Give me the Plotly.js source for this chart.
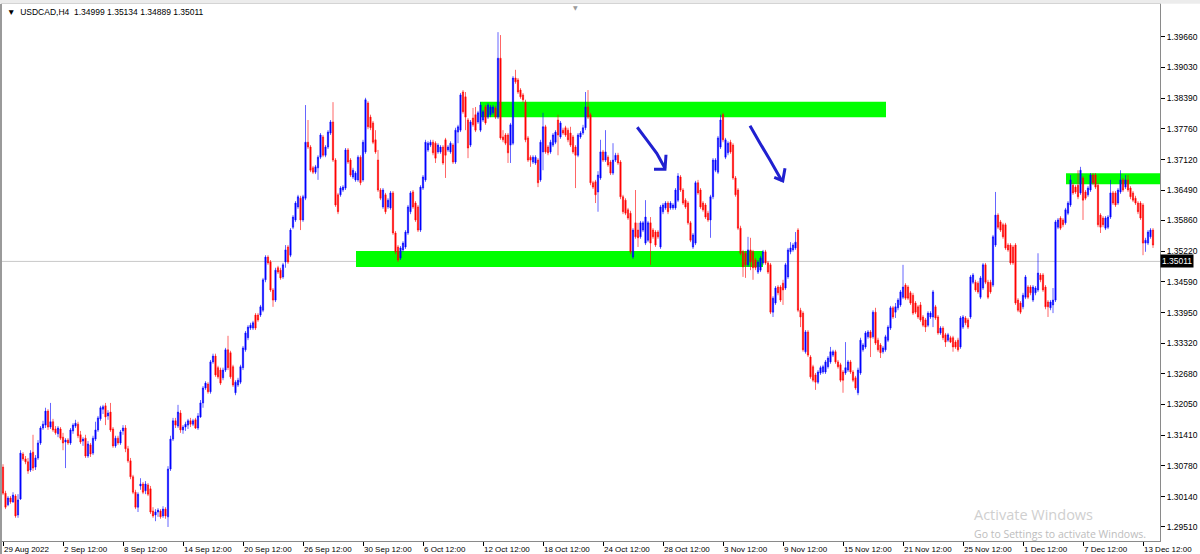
<!DOCTYPE html>
<html>
<head>
<meta charset="utf-8">
<script src="https://cdn.plot.ly/plotly-3.0.1.min.js"></script>
<style>
html,body{margin:0;padding:0;background:#ffffff;overflow:hidden;}
#chart{width:1200px;height:554px;}
</style>
</head>
<body>
<div id="chart"></div>
<script>
// ---------------- DATA ----------------
const symbolTitle = 'USDCAD,H4';
const lastQuote = [1.34999, 1.35134, 1.34889, 1.35011]; // O H L C of current bar
const currentPrice = 1.35011;

const openP = [
1.3075,1.3021,1.2997,1.3011,1.3003,1.3015,1.2976,1.3009,1.3102,1.3092,
1.3086,1.3069,1.3106,1.3075,1.3094,1.3125,1.3156,1.3162,1.3191,1.3158,
1.3169,1.3154,1.3144,1.3154,1.3137,1.3127,1.3131,1.3125,1.3150,1.3160,
1.3164,1.3142,1.3129,1.3135,1.3098,1.3121,1.3104,1.3133,1.3152,1.3175,
1.3195,1.3202,1.3181,1.3189,1.3154,1.3119,1.3135,1.3125,1.3150,1.3156,
1.3113,1.3088,1.3055,1.3023,1.2992,1.3036,1.3040,1.3026,1.3038,1.3030,
1.2984,1.2976,1.2982,1.2984,1.2974,1.2988,1.2972,1.3071,1.3133,1.3171,
1.3160,1.3187,1.3152,1.3158,1.3162,1.3171,1.3164,1.3173,1.3156,1.3179,
1.3208,1.3239,1.3247,1.3231,1.3293,1.3305,1.3281,1.3276,1.3260,1.3276,
1.3318,1.3312,1.3283,1.3229,1.3245,1.3251,1.3281,1.3318,1.3343,1.3363,
1.3363,1.3390,1.3390,1.3390,1.3400,1.3463,1.3510,1.3500,1.3442,1.3421,
1.3488,1.3483,1.3469,1.3500,1.3531,1.3514,1.3572,1.3587,1.3614,1.3632,
1.3587,1.3632,1.3748,1.3738,1.3695,1.3686,1.3695,1.3717,1.3759,1.3721,
1.3738,1.3767,1.3790,1.3711,1.3639,1.3639,1.3649,1.3653,1.3732,1.3711,
1.3676,1.3670,1.3670,1.3717,1.3670,1.3728,1.3829,1.3800,1.3788,1.3753,
1.3711,1.3649,1.3614,1.3639,1.3614,1.3612,1.3643,1.3560,1.3531,1.3508,
1.3525,1.3531,1.3560,1.3604,1.3645,1.3622,1.3614,1.3566,1.3653,1.3670,
1.3732,1.3742,1.3748,1.3746,1.3728,1.3728,1.3738,1.3753,1.3732,1.3728,
1.3742,1.3707,1.3769,1.3773,1.3852,1.3842,1.3794,1.3742,1.3798,1.3805,
1.3790,1.3773,1.3794,1.3821,1.3800,1.3805,1.3809,1.3819,1.3800,1.3922,
1.3759,1.3763,1.3763,1.3742,1.3746,1.3881,1.3877,1.3856,1.3846,1.3831,
1.3757,1.3717,1.3707,1.3705,1.3711,1.3670,1.3728,1.3780,1.3738,1.3728,
1.3742,1.3748,1.3794,1.3759,1.3773,1.3778,1.3773,1.3767,1.3759,1.3738,
1.3721,1.3759,1.3767,1.3778,1.3821,1.3805,1.3664,1.3666,1.3645,1.3674,
1.3728,1.3711,1.3717,1.3707,1.3684,1.3711,1.3721,1.3707,1.3635,1.3628,
1.3608,1.3601,1.3510,1.3581,1.3566,1.3552,1.3566,1.3539,1.3545,1.3581,
1.3566,1.3562,1.3562,1.3531,1.3604,1.3612,1.3622,1.3612,1.3612,1.3612,
1.3628,1.3676,1.3649,1.3628,1.3622,1.3581,1.3531,1.3539,1.3664,1.3649,
1.3622,1.3618,1.3601,1.3587,1.3635,1.3690,1.3686,1.3738,1.3805,1.3717,
1.3726,1.3748,1.3742,1.3674,1.3649,1.3570,1.3521,1.3518,1.3494,1.3525,
1.3521,1.3504,1.3479,1.3483,1.3498,1.3521,1.3498,1.3494,1.3396,1.3415,
1.3448,1.3448,1.3456,1.3446,1.3469,1.3521,1.3525,1.3529,1.3566,1.3400,
1.3394,1.3314,1.3355,1.3303,1.3283,1.3266,1.3251,1.3270,1.3272,1.3272,
1.3283,1.3293,1.3307,1.3314,1.3293,1.3287,1.3272,1.3270,1.3276,1.3293,
1.3272,1.3260,1.3229,1.3270,1.3318,1.3324,1.3345,1.3355,1.3345,1.3396,
1.3338,1.3328,1.3314,1.3318,1.3338,1.3363,1.3405,1.3396,1.3405,1.3411,
1.3427,1.3452,1.3448,1.3436,1.3431,1.3415,1.3407,1.3411,1.3386,1.3380,
1.3369,1.3386,1.3386,1.3407,1.3386,1.3353,1.3363,1.3349,1.3338,1.3343,
1.3343,1.3334,1.3338,1.3324,1.3365,1.3384,1.3380,1.3386,1.3458,1.3458,
1.3456,1.3427,1.3446,1.3494,1.3458,1.3458,1.3452,1.3535,1.3597,1.3583,
1.3577,1.3577,1.3535,1.3535,1.3531,1.3535,1.3421,1.3415,1.3407,1.3427,
1.3448,1.3448,1.3421,1.3436,1.3442,1.3473,1.3473,1.3448,1.3417,1.3405,
1.3411,1.3421,1.3572,1.3591,1.3587,1.3581,1.3601,1.3618,1.3659,1.3655,
1.3659,1.3643,1.3674,1.3645,1.3639,1.3649,1.3680,1.3680,1.3659,1.3597,
1.3591,1.3570,1.3572,1.3593,1.3643,1.3643,1.3622,1.3645,1.3670,1.3655,
1.3670,1.3653,1.3643,1.3632,1.3622,1.3622,1.3618,1.3539,1.3539,1.3552,
1.3566];

const highP = [
1.3081,1.3026,1.3015,1.3015,1.3023,1.3019,1.3019,1.3110,1.3106,1.3098,
1.3094,1.3110,1.3142,1.3100,1.3131,1.3160,1.3171,1.3198,1.3195,1.3208,
1.3175,1.3160,1.3160,1.3158,1.3146,1.3135,1.3135,1.3156,1.3166,1.3173,
1.3169,1.3150,1.3137,1.3142,1.3129,1.3125,1.3140,1.3169,1.3181,1.3202,
1.3204,1.3208,1.3193,1.3208,1.3158,1.3140,1.3140,1.3152,1.3162,1.3162,
1.3119,1.3094,1.3059,1.3028,1.3023,1.3052,1.3044,1.3046,1.3042,1.3036,
1.2992,1.2988,1.2990,1.2988,1.2994,1.2992,1.3077,1.3140,1.3177,1.3177,
1.3204,1.3193,1.3162,1.3169,1.3175,1.3177,1.3175,1.3177,1.3187,1.3214,
1.3243,1.3253,1.3251,1.3297,1.3310,1.3310,1.3285,1.3281,1.3281,1.3322,
1.3347,1.3316,1.3287,1.3255,1.3260,1.3287,1.3326,1.3357,1.3369,1.3374,
1.3378,1.3394,1.3394,1.3411,1.3467,1.3514,1.3514,1.3504,1.3446,1.3488,
1.3492,1.3488,1.3498,1.3535,1.3535,1.3570,1.3597,1.3626,1.3639,1.3637,
1.3639,1.3825,1.3794,1.3742,1.3699,1.3701,1.3721,1.3767,1.3763,1.3742,
1.3773,1.3794,1.3831,1.3715,1.3643,1.3657,1.3659,1.3736,1.3736,1.3715,
1.3695,1.3688,1.3721,1.3721,1.3753,1.3840,1.3833,1.3805,1.3792,1.3773,
1.3732,1.3653,1.3653,1.3643,1.3632,1.3647,1.3647,1.3564,1.3535,1.3533,
1.3543,1.3566,1.3618,1.3647,1.3649,1.3626,1.3618,1.3659,1.3680,1.3753,
1.3750,1.3753,1.3753,1.3750,1.3746,1.3742,1.3742,1.3757,1.3742,1.3750,
1.3746,1.3778,1.3784,1.3850,1.3856,1.3852,1.3798,1.3794,1.3819,1.3821,
1.3813,1.3831,1.3815,1.3825,1.3829,1.3825,1.3825,1.3823,1.3976,1.3970,
1.3773,1.3767,1.3767,1.3788,1.3885,1.3898,1.3881,1.3860,1.3850,1.3836,
1.3761,1.3721,1.3721,1.3721,1.3715,1.3753,1.3809,1.3784,1.3742,1.3753,
1.3767,1.3773,1.3805,1.3792,1.3778,1.3782,1.3778,1.3780,1.3763,1.3742,
1.3767,1.3771,1.3784,1.3852,1.3856,1.3809,1.3668,1.3670,1.3688,1.3753,
1.3732,1.3773,1.3721,1.3711,1.3746,1.3726,1.3726,1.3711,1.3639,1.3632,
1.3612,1.3606,1.3570,1.3649,1.3581,1.3585,1.3585,1.3628,1.3585,1.3593,
1.3570,1.3566,1.3566,1.3618,1.3622,1.3626,1.3626,1.3626,1.3622,1.3653,
1.3684,1.3680,1.3653,1.3632,1.3626,1.3585,1.3560,1.3668,1.3670,1.3653,
1.3626,1.3622,1.3606,1.3639,1.3715,1.3715,1.3761,1.3805,1.3809,1.3757,
1.3750,1.3753,1.3746,1.3678,1.3653,1.3575,1.3525,1.3523,1.3552,1.3550,
1.3525,1.3508,1.3504,1.3512,1.3525,1.3525,1.3502,1.3498,1.3429,1.3450,
1.3452,1.3452,1.3463,1.3498,1.3529,1.3541,1.3539,1.3562,1.3570,1.3405,
1.3398,1.3359,1.3359,1.3307,1.3287,1.3270,1.3276,1.3285,1.3287,1.3297,
1.3305,1.3324,1.3318,1.3318,1.3297,1.3291,1.3276,1.3334,1.3297,1.3297,
1.3276,1.3264,1.3281,1.3343,1.3332,1.3357,1.3359,1.3359,1.3400,1.3405,
1.3343,1.3332,1.3326,1.3349,1.3369,1.3409,1.3409,1.3415,1.3425,1.3442,
1.3494,1.3456,1.3452,1.3440,1.3436,1.3419,1.3411,1.3417,1.3390,1.3384,
1.3398,1.3398,1.3442,1.3411,1.3390,1.3367,1.3367,1.3353,1.3353,1.3347,
1.3347,1.3338,1.3343,1.3388,1.3390,1.3388,1.3384,1.3473,1.3477,1.3463,
1.3460,1.3471,1.3498,1.3498,1.3463,1.3463,1.3556,1.3645,1.3601,1.3587,
1.3581,1.3581,1.3539,1.3539,1.3535,1.3539,1.3425,1.3419,1.3436,1.3473,
1.3452,1.3452,1.3452,1.3450,1.3518,1.3477,1.3477,1.3452,1.3421,1.3421,
1.3446,1.3587,1.3591,1.3595,1.3591,1.3612,1.3626,1.3680,1.3664,1.3659,
1.3690,1.3697,1.3678,1.3649,1.3657,1.3684,1.3684,1.3684,1.3664,1.3601,
1.3595,1.3595,1.3597,1.3670,1.3647,1.3647,1.3653,1.3690,1.3674,1.3680,
1.3680,1.3657,1.3647,1.3637,1.3626,1.3626,1.3622,1.3550,1.3566,1.3570,
1.3570];

const lowP = [
1.3017,1.2988,1.2994,1.2999,1.3001,1.2970,1.2970,1.3007,1.3088,1.3081,
1.3061,1.3065,1.3067,1.3069,1.3090,1.3121,1.3152,1.3156,1.3152,1.3154,
1.3148,1.3142,1.3137,1.3131,1.3110,1.3073,1.3121,1.3121,1.3144,1.3156,
1.3135,1.3123,1.3119,1.3094,1.3094,1.3096,1.3100,1.3129,1.3148,1.3171,
1.3185,1.3162,1.3173,1.3148,1.3115,1.3115,1.3121,1.3121,1.3142,1.3106,
1.3084,1.3050,1.3019,1.2988,1.2982,1.3028,1.3019,1.3019,1.3015,1.2978,
1.2970,1.2963,1.2972,1.2968,1.2970,1.2968,1.2951,1.3067,1.3129,1.3156,
1.3156,1.3146,1.3144,1.3150,1.3154,1.3158,1.3160,1.3154,1.3152,1.3177,
1.3198,1.3235,1.3227,1.3227,1.3289,1.3262,1.3258,1.3245,1.3255,1.3272,
1.3276,1.3258,1.3241,1.3224,1.3241,1.3247,1.3276,1.3314,1.3338,1.3359,
1.3359,1.3359,1.3376,1.3386,1.3396,1.3458,1.3494,1.3438,1.3407,1.3417,
1.3475,1.3463,1.3465,1.3488,1.3496,1.3510,1.3568,1.3583,1.3610,1.3566,
1.3583,1.3628,1.3734,1.3686,1.3682,1.3682,1.3670,1.3713,1.3717,1.3717,
1.3734,1.3763,1.3707,1.3614,1.3599,1.3635,1.3645,1.3649,1.3703,1.3676,
1.3672,1.3666,1.3666,1.3659,1.3666,1.3724,1.3775,1.3773,1.3744,1.3724,
1.3645,1.3628,1.3610,1.3599,1.3610,1.3608,1.3556,1.3516,1.3500,1.3504,
1.3521,1.3527,1.3556,1.3599,1.3610,1.3583,1.3562,1.3562,1.3649,1.3666,
1.3728,1.3738,1.3721,1.3705,1.3724,1.3724,1.3701,1.3674,1.3728,1.3724,
1.3703,1.3703,1.3746,1.3769,1.3807,1.3773,1.3715,1.3738,1.3780,1.3769,
1.3786,1.3769,1.3790,1.3784,1.3796,1.3800,1.3805,1.3796,1.3796,1.3753,
1.3748,1.3742,1.3705,1.3705,1.3742,1.3869,1.3848,1.3838,1.3831,1.3748,
1.3707,1.3697,1.3703,1.3701,1.3655,1.3666,1.3690,1.3724,1.3721,1.3724,
1.3738,1.3744,1.3721,1.3755,1.3763,1.3759,1.3748,1.3738,1.3724,1.3653,
1.3717,1.3755,1.3763,1.3773,1.3796,1.3659,1.3651,1.3622,1.3604,1.3670,
1.3707,1.3707,1.3697,1.3680,1.3680,1.3707,1.3701,1.3630,1.3599,1.3597,
1.3587,1.3516,1.3506,1.3548,1.3531,1.3548,1.3562,1.3535,1.3541,1.3494,
1.3548,1.3531,1.3548,1.3527,1.3599,1.3608,1.3599,1.3608,1.3608,1.3608,
1.3624,1.3645,1.3618,1.3610,1.3577,1.3541,1.3527,1.3535,1.3639,1.3610,
1.3604,1.3589,1.3583,1.3550,1.3630,1.3686,1.3682,1.3734,1.3748,1.3713,
1.3721,1.3724,1.3670,1.3635,1.3566,1.3514,1.3469,1.3467,1.3490,1.3483,
1.3463,1.3483,1.3475,1.3479,1.3494,1.3494,1.3475,1.3392,1.3386,1.3411,
1.3431,1.3417,1.3411,1.3442,1.3465,1.3516,1.3521,1.3525,1.3396,1.3365,
1.3314,1.3310,1.3303,1.3258,1.3251,1.3235,1.3247,1.3266,1.3268,1.3268,
1.3279,1.3289,1.3303,1.3289,1.3279,1.3251,1.3229,1.3266,1.3272,1.3268,
1.3251,1.3235,1.3224,1.3266,1.3314,1.3320,1.3341,1.3303,1.3341,1.3328,
1.3314,1.3301,1.3310,1.3314,1.3334,1.3359,1.3382,1.3384,1.3400,1.3407,
1.3423,1.3421,1.3421,1.3411,1.3390,1.3392,1.3382,1.3376,1.3365,1.3355,
1.3365,1.3382,1.3365,1.3380,1.3349,1.3349,1.3338,1.3324,1.3334,1.3332,
1.3314,1.3320,1.3314,1.3320,1.3361,1.3369,1.3361,1.3382,1.3454,1.3438,
1.3434,1.3423,1.3442,1.3454,1.3423,1.3434,1.3448,1.3531,1.3568,1.3562,
1.3548,1.3525,1.3521,1.3494,1.3494,1.3411,1.3396,1.3392,1.3402,1.3423,
1.3423,1.3431,1.3417,1.3431,1.3438,1.3458,1.3438,1.3402,1.3386,1.3400,
1.3394,1.3417,1.3568,1.3566,1.3572,1.3577,1.3597,1.3614,1.3639,1.3641,
1.3630,1.3639,1.3587,1.3628,1.3635,1.3645,1.3659,1.3651,1.3572,1.3560,
1.3572,1.3566,1.3568,1.3589,1.3618,1.3614,1.3618,1.3641,1.3645,1.3651,
1.3645,1.3630,1.3624,1.3618,1.3599,1.3587,1.3514,1.3521,1.3535,1.3548,
1.3529];

const closeP = [
1.3021,1.2992,1.3011,1.3003,1.3017,1.2974,1.3007,1.3104,1.3092,1.3086,
1.3067,1.3104,1.3073,1.3094,1.3125,1.3156,1.3164,1.3191,1.3158,1.3169,
1.3152,1.3146,1.3156,1.3135,1.3125,1.3131,1.3125,1.3152,1.3162,1.3166,
1.3140,1.3127,1.3133,1.3098,1.3123,1.3102,1.3135,1.3152,1.3177,1.3198,
1.3200,1.3179,1.3187,1.3152,1.3119,1.3135,1.3125,1.3148,1.3156,1.3113,
1.3088,1.3055,1.3023,1.2992,1.3019,1.3040,1.3023,1.3040,1.3019,1.2982,
1.2974,1.2982,1.2986,1.2972,1.2988,1.2974,1.3071,1.3133,1.3171,1.3162,
1.3189,1.3152,1.3158,1.3164,1.3171,1.3164,1.3171,1.3156,1.3181,1.3208,
1.3239,1.3249,1.3231,1.3293,1.3305,1.3266,1.3262,1.3249,1.3276,1.3318,
1.3281,1.3262,1.3245,1.3251,1.3255,1.3283,1.3322,1.3353,1.3365,1.3369,
1.3374,1.3363,1.3380,1.3407,1.3463,1.3510,1.3498,1.3442,1.3421,1.3483,
1.3479,1.3467,1.3494,1.3525,1.3500,1.3566,1.3593,1.3622,1.3635,1.3587,
1.3635,1.3748,1.3738,1.3690,1.3686,1.3697,1.3717,1.3763,1.3721,1.3738,
1.3769,1.3790,1.3711,1.3618,1.3604,1.3653,1.3655,1.3732,1.3707,1.3680,
1.3690,1.3684,1.3717,1.3664,1.3748,1.3836,1.3780,1.3778,1.3748,1.3728,
1.3649,1.3632,1.3649,1.3604,1.3628,1.3643,1.3560,1.3521,1.3504,1.3529,
1.3539,1.3562,1.3614,1.3643,1.3614,1.3587,1.3566,1.3655,1.3676,1.3748,
1.3746,1.3748,1.3726,1.3715,1.3742,1.3738,1.3705,1.3721,1.3738,1.3746,
1.3707,1.3773,1.3780,1.3846,1.3811,1.3800,1.3736,1.3790,1.3784,1.3773,
1.3809,1.3825,1.3811,1.3788,1.3825,1.3821,1.3821,1.3800,1.3922,1.3757,
1.3753,1.3746,1.3726,1.3784,1.3881,1.3873,1.3852,1.3842,1.3836,1.3753,
1.3711,1.3711,1.3717,1.3717,1.3664,1.3748,1.3780,1.3728,1.3726,1.3748,
1.3763,1.3769,1.3763,1.3788,1.3767,1.3763,1.3753,1.3742,1.3728,1.3721,
1.3763,1.3767,1.3778,1.3821,1.3800,1.3664,1.3655,1.3639,1.3680,1.3728,
1.3711,1.3728,1.3701,1.3684,1.3711,1.3721,1.3705,1.3635,1.3604,1.3601,
1.3591,1.3521,1.3566,1.3552,1.3550,1.3581,1.3581,1.3593,1.3581,1.3539,
1.3552,1.3535,1.3552,1.3614,1.3618,1.3622,1.3604,1.3622,1.3618,1.3649,
1.3678,1.3649,1.3622,1.3614,1.3581,1.3545,1.3556,1.3664,1.3643,1.3614,
1.3608,1.3593,1.3587,1.3635,1.3711,1.3711,1.3757,1.3794,1.3753,1.3753,
1.3746,1.3728,1.3674,1.3639,1.3570,1.3518,1.3490,1.3494,1.3525,1.3500,
1.3488,1.3488,1.3500,1.3508,1.3521,1.3498,1.3479,1.3396,1.3425,1.3446,
1.3436,1.3421,1.3442,1.3494,1.3525,1.3529,1.3535,1.3541,1.3400,1.3386,
1.3318,1.3355,1.3307,1.3262,1.3255,1.3251,1.3272,1.3281,1.3283,1.3293,
1.3301,1.3314,1.3314,1.3293,1.3283,1.3255,1.3255,1.3281,1.3293,1.3272,
1.3255,1.3239,1.3276,1.3338,1.3328,1.3353,1.3355,1.3343,1.3396,1.3332,
1.3318,1.3312,1.3322,1.3345,1.3365,1.3405,1.3386,1.3407,1.3421,1.3438,
1.3448,1.3425,1.3425,1.3415,1.3394,1.3396,1.3386,1.3380,1.3369,1.3365,
1.3394,1.3394,1.3438,1.3384,1.3353,1.3363,1.3343,1.3334,1.3349,1.3334,
1.3324,1.3324,1.3318,1.3384,1.3386,1.3374,1.3365,1.3469,1.3473,1.3442,
1.3438,1.3467,1.3494,1.3458,1.3427,1.3438,1.3552,1.3597,1.3572,1.3566,
1.3552,1.3529,1.3525,1.3498,1.3498,1.3415,1.3400,1.3396,1.3431,1.3469,
1.3427,1.3436,1.3448,1.3446,1.3477,1.3463,1.3442,1.3407,1.3407,1.3417,
1.3421,1.3583,1.3587,1.3570,1.3577,1.3608,1.3622,1.3670,1.3643,1.3645,
1.3635,1.3690,1.3628,1.3632,1.3653,1.3680,1.3664,1.3655,1.3577,1.3572,
1.3577,1.3591,1.3593,1.3643,1.3622,1.3618,1.3649,1.3670,1.3649,1.3670,
1.3649,1.3635,1.3628,1.3622,1.3604,1.3591,1.3539,1.3545,1.3562,1.3566,
1.3535];

// x-axis labels (one every 24 H4 bars)
const xTickBars = [0,24,48,72,96,120,144,168,192,216,240,264,288,312,336,360,384,408,432,456];
const xTickLabels = ['29 Aug 2022','2 Sep 12:00','8 Sep 12:00','14 Sep 12:00','20 Sep 12:00',
  '26 Sep 12:00','30 Sep 12:00','6 Oct 12:00','12 Oct 12:00','18 Oct 12:00',
  '24 Oct 12:00','28 Oct 12:00','3 Nov 12:00','9 Nov 12:00','15 Nov 12:00',
  '21 Nov 12:00','25 Nov 12:00','1 Dec 12:00','7 Dec 12:00','13 Dec 12:00'];
// y-axis price labels
const yTickVals = [1.39660,1.39030,1.38390,1.37760,1.37120,1.36490,1.35860,1.35220,
  1.34590,1.33950,1.33320,1.32680,1.32050,1.31410,1.30780,1.30140,1.29510];

// drawn zones (green rectangles): start bar, end bar, low price, high price
const zoneStartBar = [190.8, 141.2, 425.2];
const zoneEndBar   = [353.2, 304.0, 462.8];
const zoneLow      = [1.37996, 1.34895, 1.36608];
const zoneHigh     = [1.38319, 1.35227, 1.36836];

// hand-drawn arrows: [bar, price] points
const arrowStrokes = [
  [[253.7,1.3779],[257.5,1.3753],[261.5,1.3725],[264.8,1.3694]],
  [[265.2,1.3722],[264.8,1.3692],[260.4,1.3692]],
  [[298.8,1.3782],[302.8,1.3746],[306.8,1.3711],[311.5,1.3668]],
  [[312.8,1.3694],[311.9,1.3668],[308.5,1.3675]]
];

// ---------------- CHART ----------------
const barIndex = openP.map((_, i) => i);

const trace = {
  type: 'candlestick',
  x: barIndex,
  open: openP, high: highP, low: lowP, close: closeP,
  increasing: {line: {color: 'rgba(0,0,255,0.6)', width: 1}, fillcolor: '#0000ff'},
  decreasing: {line: {color: 'rgba(255,0,0,0.6)', width: 1}, fillcolor: '#ff0000'},
  whiskerwidth: 0,
  hoverinfo: 'skip',
  showlegend: false
};

const shapes = [];
// window tab strip above the chart
shapes.push({type:'rect', xref:'paper', yref:'paper', x0:-0.01, x1:1.04, y0:1.0005, y1:1.01,
  fillcolor:'#ececec', line:{width:0}});
// left window border
shapes.push({type:'rect', xref:'paper', yref:'paper', x0:-0.0018, x1:0, y0:-0.03, y1:1,
  fillcolor:'#9a9a9a', line:{width:0}});
for (let k = 0; k < zoneStartBar.length; k++) {
  shapes.push({type:'rect', xref:'x', yref:'y', x0:zoneStartBar[k], x1:zoneEndBar[k],
    y0:zoneLow[k], y1:zoneHigh[k], fillcolor:'#00ff00', line:{width:0}, layer:'below'});
}
shapes.push({type:'line', xref:'paper', yref:'y', x0:0, x1:1, y0:currentPrice, y1:currentPrice,
  line:{color:'#c8c8c8', width:1}, layer:'below'});
arrowStrokes.forEach(s => {
  const path = s.map((p, j) => (j ? 'L' : 'M') + p[0] + ',' + p[1]).join(' ');
  shapes.push({type:'path', xref:'x', yref:'y', path:path, line:{color:'#2020d0', width:3}});
});

const baseFont = {family:'Liberation Sans, Arial, sans-serif', color:'#000000'};
const headerText = '\u25BC\u00a0 ' + symbolTitle + '\u00a0\u00a0' + lastQuote.map(v => v.toFixed(5)).join(' ');

const annotations = [
  {xref:'paper', yref:'paper', x:0.0022, y:0.986, xanchor:'left', yanchor:'middle', showarrow:false,
   text: headerText, font:{family:baseFont.family, size:8.5, color:'#000'}},
  {xref:'paper', yref:'y', x:1, y:currentPrice, xanchor:'left', yanchor:'middle', showarrow:false,
   text: currentPrice.toFixed(5), bgcolor:'#000000', borderpad:1,
   font:{family:baseFont.family, size:8.5, color:'#ffffff'}},
  {xref:'paper', yref:'paper', x:0.4956, y:0.994, xanchor:'center', yanchor:'middle', showarrow:false,
   text:'\u25BC', font:{family:'DejaVu Sans', size:6, color:'#9a9a9a'}},
  {xref:'paper', yref:'paper', x:0.8376, y:0.049, xanchor:'left', yanchor:'middle', showarrow:false,
   text:'Activate Windows', font:{family:'Open Sans, Noto Sans, sans-serif', size:14.5, color:'#cfcfcf'}},
  {xref:'paper', yref:'paper', x:0.8376, y:0.013, xanchor:'left', yanchor:'middle', showarrow:false,
   text:'Go to Settings to activate Windows.', font:{family:'Open Sans, Noto Sans, sans-serif', size:10.5, color:'#bdbdbd'}}
];

const layout = {
  width: 1200, height: 554,
  margin: {l: 2, r: 40, t: 4, b: 13, pad: 0},
  paper_bgcolor: '#ffffff', plot_bgcolor: '#ffffff',
  showlegend: false,
  dragmode: false,
  xaxis: {
    type: 'linear', range: [-0.4, 462.8], autorange: false,
    rangeslider: {visible: false},
    showgrid: false, zeroline: false,
    showline: true, linecolor: '#8a8a8a', linewidth: 1, mirror: true,
    tickmode: 'array', tickvals: xTickBars, ticktext: xTickLabels,
    ticks: 'outside', ticklen: 4, tickcolor: '#000', tickwidth: 1,
    ticklabelposition: 'outside right',
    tickfont: {family: baseFont.family, size: 8, color: '#000'},
    automargin: false, fixedrange: true
  },
  yaxis: {
    side: 'right', range: [1.292197, 1.403431], autorange: false,
    showgrid: false, zeroline: false,
    showline: true, linecolor: '#8a8a8a', linewidth: 1, mirror: true,
    tickmode: 'array', tickvals: yTickVals, tickformat: '.5f',
    ticks: 'outside', ticklen: 4, tickcolor: '#000', tickwidth: 1,
    tickfont: {family: baseFont.family, size: 8.5, color: '#000'},
    automargin: false, fixedrange: true
  },
  shapes: shapes,
  annotations: annotations
};

Plotly.newPlot('chart', [trace], layout, {staticPlot: true, displayModeBar: false});
</script>
</body>
</html>
